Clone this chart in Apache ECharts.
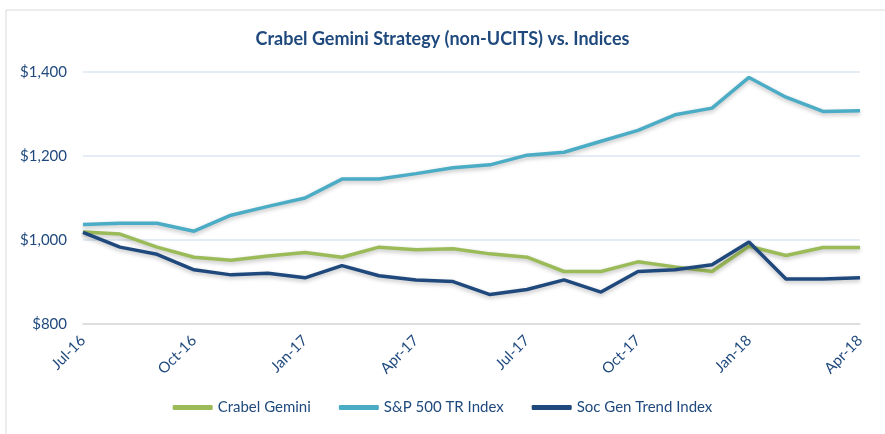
<!DOCTYPE html>
<html>
<head>
<meta charset="utf-8">
<script src="https://cdn.jsdelivr.net/npm/echarts@6/dist/echarts.min.js"></script>
<style>
  html, body { margin: 0; padding: 0; background: #fff; }
  #main { width: 885px; height: 434px; }
</style>
</head>
<body>
<div id="main"></div>
<script>
// monthly data, Jul-16 .. Apr-18 (value of $1,000 invested)
var months = ['Jul-16','Aug-16','Sep-16','Oct-16','Nov-16','Dec-16','Jan-17','Feb-17','Mar-17','Apr-17','May-17',
  'Jun-17','Jul-17','Aug-17','Sep-17','Oct-17','Nov-17','Dec-17','Jan-18','Feb-18','Mar-18','Apr-18'];
var crabel = [1019,1014,983,959,952,962,970,959,983,977,979,
  967,959,925,925,948,936,925,985,963,982,982];
var sp500 = [1037,1040,1040,1021,1059,1080,1100,1145,1145,1158,1172,
  1179,1202,1209,1235,1261,1298,1314,1387,1340,1306,1308];
var socgen = [1018,983,966,929,917,921,910,939,915,905,901,
  870,882,905,876,925,929,941,995,907,907,910];

var textColor = '#1f497d';
var fontFam = 'Lato, "Open Sans", sans-serif';

var myChart = echarts.init(document.getElementById('main'));

function lineSeries(name, data, color) {
  return {
    name: name,
    type: 'line',
    data: data,
    symbol: 'none',
    lineStyle: {
      color: color,
      width: 3.5,
      shadowColor: 'rgba(0,0,0,0.25)',
      shadowBlur: 4,
      shadowOffsetY: 2
    },
    itemStyle: { color: color }
  };
}

var option = {
  backgroundColor: '#fff',
  animation: false,
  graphic: [{
    type: 'rect',
    shape: { x: 6, y: 10, width: 900, height: 440 },
    style: { fill: 'none', stroke: '#d9d9d9', lineWidth: 1 },
    silent: true
  }],
  title: {
    text: 'Crabel Gemini Strategy (non-UCITS) vs. Indices',
    left: 'center',
    top: 25,
    textStyle: { color: textColor, fontSize: 18, fontWeight: 'bold', fontFamily: fontFam }
  },
  legend: {
    bottom: 14,
    left: 'center',
    icon: 'roundRect',
    itemWidth: 40,
    itemHeight: 5,
    itemGap: 28,
    textStyle: { color: textColor, fontSize: 15, fontFamily: fontFam }
  },
  grid: { left: 83, right: 25, top: 72, bottom: 110 },
  xAxis: {
    type: 'category',
    boundaryGap: false,
    data: months,
    axisTick: { show: false },
    axisLine: { lineStyle: { color: '#d9d9d9', width: 1.5 } },
    axisLabel: {
      interval: 2,
      rotate: 45,
      color: textColor,
      fontSize: 15,
      fontFamily: fontFam,
      margin: 14
    }
  },
  yAxis: {
    type: 'value',
    min: 800,
    max: 1400,
    interval: 200,
    axisLine: { show: false },
    axisTick: { show: false },
    splitLine: { lineStyle: { color: '#dce6f2', width: 1.5 } },
    axisLabel: {
      color: textColor,
      fontSize: 15,
      fontFamily: fontFam,
      margin: 16,
      formatter: function (v) { return '$' + v.toLocaleString('en-US'); }
    }
  },
  series: [
    lineSeries('Crabel Gemini', crabel, '#9bbb59'),
    lineSeries('S&P 500 TR Index', sp500, '#4bacc6'),
    lineSeries('Soc Gen Trend Index', socgen, '#1f497d')
  ]
};
myChart.setOption(option);
</script>
</body>
</html>
